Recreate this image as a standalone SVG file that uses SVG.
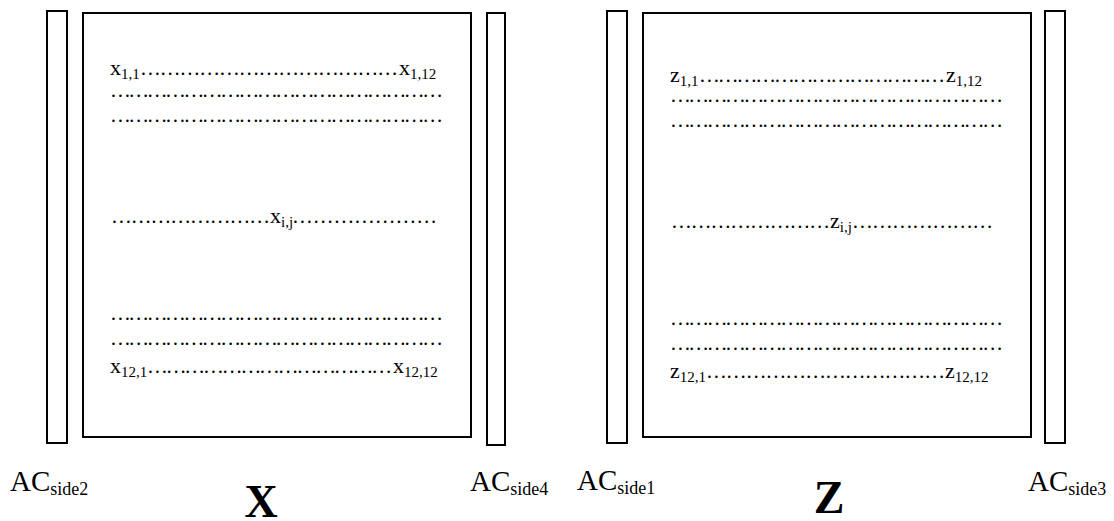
<svg xmlns="http://www.w3.org/2000/svg" width="1114" height="521" viewBox="0 0 1114 521">
<style>
.b{fill:#fff;stroke:#000;stroke-width:2}
.t{font-family:"Liberation Serif","Times New Roman",serif;font-size:22px;fill:#000}
.s{font-size:15px}
.d{font-family:"Liberation Serif","Times New Roman",serif;font-size:20.8px;fill:#000}
.ac{font-family:"Liberation Serif","Times New Roman",serif;font-size:29px;fill:#000}
.acs{font-size:18px}
.big{font-family:"Liberation Serif","Times New Roman",serif;font-size:46px;font-weight:bold;fill:#000}
</style>
<g id="bar-side2"><rect class="b" x="47" y="11" width="20" height="432"/></g>
<g id="matrix-X">
<rect class="b" x="83" y="13" width="388" height="424"/>
<text class="t" x="110" y="75">x<tspan class="s" dy="4">1,1</tspan></text>
<text class="d" x="140" y="75" textLength="258" lengthAdjust="spacing">…………………………………</text>
<text class="t" x="399" y="75">x<tspan class="s" dy="4">1,12</tspan></text>
<text class="d" x="110" y="97" textLength="333" lengthAdjust="spacing">………………………………………………</text>
<text class="d" x="110" y="122" textLength="333" lengthAdjust="spacing">………………………………………………</text>
<text class="d" x="111" y="223" textLength="159" lengthAdjust="spacing">……………………</text>
<text class="t" x="270" y="223">x<tspan class="s" dy="4">i,j</tspan></text>
<text class="d" x="292" y="223" textLength="145" lengthAdjust="spacing">…………………</text>
<text class="d" x="110" y="320" textLength="333" lengthAdjust="spacing">………………………………………………</text>
<text class="d" x="110" y="345" textLength="333" lengthAdjust="spacing">………………………………………………</text>
<text class="t" x="110" y="373">x<tspan class="s" dy="4">12,1</tspan></text>
<text class="d" x="147" y="373" textLength="245" lengthAdjust="spacing">…………………………………</text>
<text class="t" x="393" y="373">x<tspan class="s" dy="4">12,12</tspan></text>
</g>
<g id="bar-side4"><rect class="b" x="487" y="13" width="18" height="432"/></g>
<g id="bar-side1"><rect class="b" x="607" y="11" width="20" height="432"/></g>
<g id="matrix-Z">
<rect class="b" x="643" y="13" width="388" height="424"/>
<text class="t" x="670" y="82">z<tspan class="s" dy="4">1,1</tspan></text>
<text class="d" x="699" y="82" textLength="246" lengthAdjust="spacing">…………………………………</text>
<text class="t" x="946" y="82">z<tspan class="s" dy="4">1,12</tspan></text>
<text class="d" x="670" y="102" textLength="333" lengthAdjust="spacing">………………………………………………</text>
<text class="d" x="670" y="127" textLength="333" lengthAdjust="spacing">………………………………………………</text>
<text class="d" x="671" y="228" textLength="159" lengthAdjust="spacing">……………………</text>
<text class="t" x="830" y="228">z<tspan class="s" dy="4">i,j</tspan></text>
<text class="d" x="852" y="228" textLength="141" lengthAdjust="spacing">…………………</text>
<text class="d" x="670" y="325" textLength="333" lengthAdjust="spacing">………………………………………………</text>
<text class="d" x="670" y="350" textLength="333" lengthAdjust="spacing">………………………………………………</text>
<text class="t" x="670" y="378">z<tspan class="s" dy="4">12,1</tspan></text>
<text class="d" x="706" y="378" textLength="239" lengthAdjust="spacing">………………………………</text>
<text class="t" x="945" y="378">z<tspan class="s" dy="4">12,12</tspan></text>
</g>
<g id="bar-side3"><rect class="b" x="1045" y="11" width="20" height="432"/></g>
<g id="labels">
<text class="ac" x="10" y="491">AC<tspan class="acs" dy="4">side2</tspan></text>
<text class="ac" x="470" y="491">AC<tspan class="acs" dy="4">side4</tspan></text>
<text class="ac" x="577" y="490">AC<tspan class="acs" dy="4">side1</tspan></text>
<text class="ac" x="1028" y="491">AC<tspan class="acs" dy="4">side3</tspan></text>
<text class="big" x="261" y="517" text-anchor="middle">X</text>
<text class="big" x="829" y="513" text-anchor="middle">Z</text>
</g>
</svg>
